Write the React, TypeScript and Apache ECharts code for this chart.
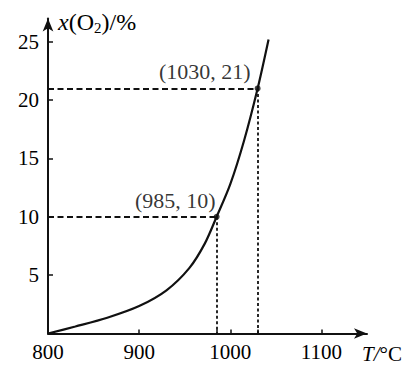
import React, { useEffect, useRef } from "react";
import * as echarts from "echarts";

// Curve x(O2) vs T
const curveT = [800, 830, 865, 900, 930, 955, 972, 985, 1000, 1015, 1030, 1042];
const curveX = [0, 0.6, 1.35, 2.35, 3.7, 5.6, 7.7, 10, 12.8, 16.5, 21, 25.2];

// Marked points
const markT = [985, 1030];
const markX = [10, 21];
const markLabels = ["(985, 10)", "(1030, 21)"];

// Axis ticks / labels
const xLabelValues = [800, 900, 1000, 1100];
const xTickValues = [900, 985, 1000, 1030, 1100];
const yValues = [5, 10, 15, 20, 25];

const FONT = "Liberation Serif";

export default function App() {
  const ref = useRef<HTMLDivElement>(null);
  useEffect(() => {
    if (!ref.current) return;
    const chart = echarts.init(ref.current, undefined, { renderer: "svg" });
    const curveData = curveT.map((t, i) => [t, curveX[i]]);
    const pts = markT.map((t, i) => [t, markX[i]]);
    const markLineData: any[] = [];
    pts.forEach((p) => {
      markLineData.push([
        { coord: [800, p[1]], lineStyle: { type: [6, 3.5] } },
        { coord: [p[0], p[1]] },
      ]);
      markLineData.push([
        { coord: [p[0], p[1]], lineStyle: { type: [3, 2.5] } },
        { coord: [p[0], 0] },
      ]);
    });
    chart.setOption({
      animation: false,
      backgroundColor: "#ffffff",
      grid: { left: 48, right: 49, top: 18.4, bottom: 35.5 },
      xAxis: {
        type: "value",
        min: 800,
        max: 1150,
        interval: 100,
        splitLine: { show: false },
        axisLine: {
          lineStyle: { color: "#111", width: 2 },
          symbol: ["none", "arrow"],
          symbolSize: [8, 13],
        },
        axisTick: {
          inside: true,
          length: 4,
          lineStyle: { color: "#111", width: 1.5 },
          customValues: xTickValues,
        },
        axisLabel: {
          customValues: xLabelValues,
          formatter: (v: number) => String(v),
          margin: 8,
          fontFamily: FONT,
          fontSize: 21,
          color: "#000",
        },
      },
      yAxis: {
        type: "value",
        min: 0,
        max: 27,
        interval: 5,
        splitLine: { show: false },
        axisLine: {
          lineStyle: { color: "#111", width: 2 },
          symbol: ["none", "arrow"],
          symbolSize: [8, 13],
        },
        axisTick: {
          inside: true,
          length: 5,
          lineStyle: { color: "#111", width: 1.5 },
          customValues: yValues,
        },
        axisLabel: {
          customValues: yValues,
          formatter: (v: number) => String(v),
          margin: 9,
          fontFamily: FONT,
          fontSize: 21,
          color: "#000",
        },
      },
      series: [
        {
          type: "line",
          data: curveData,
          smooth: 0.3,
          showSymbol: false,
          lineStyle: { color: "#111", width: 2.2 },
          markLine: {
            silent: true,
            symbol: "none",
            label: { show: false },
            lineStyle: { color: "#111", width: 1.8 },
            data: markLineData,
          },
        },
        {
          type: "scatter",
          data: pts.map((p, i) => ({
            value: p,
            label: {
              show: true,
              formatter: markLabels[i],
              position: "left",
              distance: 2,
              offset: i === 0 ? [4, -16] : [-2, -17],
              fontFamily: FONT,
              fontSize: 22,
              color: "#000",
            },
          })),
          symbolSize: 6,
          itemStyle: { color: "#111" },
        },
      ],
      graphic: [
        {
          type: "text",
          x: 58,
          y: 22,
          style: {
            text: "{i|x}(O{s|2})/%",
            verticalAlign: "middle",
            fontFamily: FONT,
            fontSize: 24,
            fill: "#000",
            rich: {
              i: { fontFamily: FONT, fontSize: 24, fontStyle: "italic", fill: "#000" },
              s: { fontFamily: FONT, fontSize: 15, fill: "#000", padding: [11, 0, 0, 0] },
            },
          },
        },
        {
          type: "text",
          x: 362,
          y: 354,
          style: {
            text: "{i|T/}°C",
            verticalAlign: "middle",
            fontFamily: FONT,
            fontSize: 21,
            fill: "#000",
            rich: {
              i: { fontFamily: FONT, fontSize: 21, fontStyle: "italic", fill: "#000" },
            },
          },
        },
      ],
    });
    return () => chart.dispose();
  }, []);
  return (
    <div
      ref={ref}
      style={{ position: "fixed", left: 0, top: 0, width: 416, height: 369 }}
    />
  );
}
